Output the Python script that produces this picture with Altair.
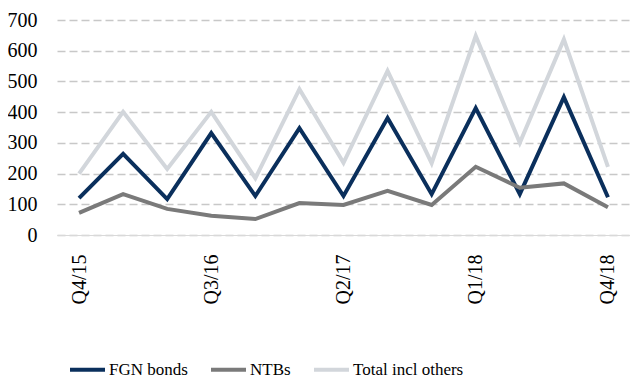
import altair as alt
import pandas as pd

quarters = ["Q4/15", "Q1/16", "Q2/16", "Q3/16", "Q4/16", "Q1/17", "Q2/17",
            "Q3/17", "Q4/17", "Q1/18", "Q2/18", "Q3/18", "Q4/18"]
fgn_bonds = [120, 264, 117, 332, 127, 348, 127, 381, 133, 413, 133, 449, 123]
ntbs = [72, 133, 85, 63, 52, 104, 98, 144, 98, 222, 154, 168, 90]
total = [200, 401, 215, 401, 185, 475, 235, 534, 234, 648, 300, 637, 222]
shown_labels = ["Q4/15", "Q3/16", "Q2/17", "Q1/18", "Q4/18"]

series_names = ["FGN bonds", "NTBs", "Total incl others"]
series_colors = ["#0A2F5C", "#7A7A7A", "#D2D6DB"]

rows = []
for name, vals in zip(series_names, [fgn_bonds, ntbs, total]):
    for i, (q, v) in enumerate(zip(quarters, vals)):
        rows.append({"quarter": q, "value": v, "series": name, "order": series_names.index(name)})
df = pd.DataFrame(rows)

font = "Liberation Serif"

chart = alt.Chart(df).mark_line(strokeWidth=4, strokeJoin="miter").encode(
    x=alt.X("quarter:N", sort=quarters, title=None,
            scale=alt.Scale(type="point", padding=0.5),
            axis=alt.Axis(values=shown_labels, labelAngle=-90, labelFont=font,
                          labelFontSize=20, labelColor="#000000", labelPadding=19,
                          ticks=False, domain=True, domainColor="#D9D9D9",
                          domainWidth=1, grid=False)),
    y=alt.Y("value:Q", title=None,
            scale=alt.Scale(domain=[0, 700], nice=False),
            axis=alt.Axis(values=[0, 100, 200, 300, 400, 500, 600, 700],
                          labelFont=font, labelFontSize=20, labelColor="#000000",
                          labelPadding=20, ticks=False, domain=False,
                          grid=True, gridColor="#C8C8C8", gridDash=[8, 4],
                          gridWidth=1.5)),
    color=alt.Color("series:N", sort=series_names,
                    scale=alt.Scale(domain=series_names, range=series_colors),
                    legend=alt.Legend(title=None, orient="none", direction="horizontal",
                                      legendX=11, legendY=330,
                                      symbolType="stroke", symbolSize=1225,
                                      symbolStrokeWidth=4, labelFont=font,
                                      labelFontSize=17, labelColor="#000000",
                                      labelOffset=2, columnPadding=15)),
    detail="series:N",
    order=alt.Order("order:Q"),
).properties(
    width=573, height=215,
    autosize=alt.AutoSizeParams(type="none"),
    padding={"left": 49, "top": 12, "right": 0, "bottom": 145},
).configure_view(stroke=None).configure_legend(labelFont=font)

chart.save("out.html", embed_options={"renderer": "svg", "actions": False})
